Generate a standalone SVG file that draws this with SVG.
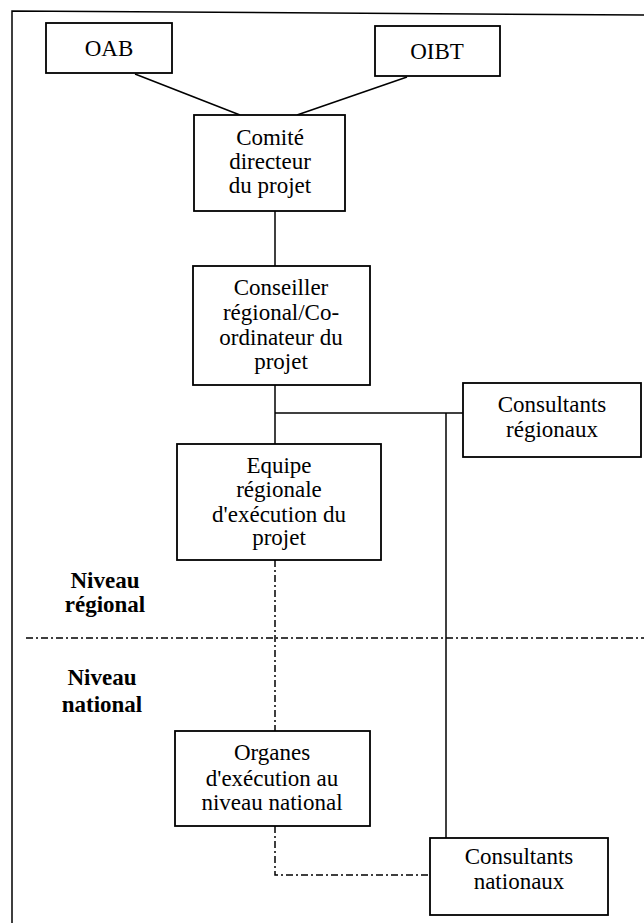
<svg xmlns="http://www.w3.org/2000/svg" width="644" height="923" viewBox="0 0 644 923">
<style>
.box{fill:#fff;stroke:#000;stroke-width:1.8}
.t{font-family:"Liberation Serif","Times New Roman",serif;font-size:23px;text-anchor:middle;fill:#000}
.b{font-weight:bold}
.ln{stroke:#000;stroke-width:1.5;fill:none}
.dd{stroke:#000;stroke-width:1.5;fill:none;stroke-dasharray:7 3 2 3}
</style>
<rect width="644" height="923" fill="#fff"/>
<path id="frame" class="ln" d="M12,923 V11 L644,15"/>
<g id="connectors">
<line class="ln" x1="135" y1="74" x2="240" y2="115"/>
<line class="ln" x1="407" y1="77" x2="297" y2="115"/>
<line class="ln" x1="275" y1="211" x2="275" y2="266"/>
<line class="ln" x1="275" y1="385" x2="275" y2="444"/>
<polyline class="ln" points="275,413 463,413"/>
<line class="ln" x1="446" y1="413" x2="446" y2="838"/>
<line class="dd" x1="275" y1="560" x2="275" y2="731"/>
<polyline class="dd" points="275,826 275,875 430,875"/>
<line class="dd" x1="26" y1="638" x2="644" y2="638"/>
</g>
<g id="oab">
<rect class="box" x="46" y="23" width="126" height="50"/>
<text class="t" x="109" y="56">OAB</text>
</g>
<g id="oibt">
<rect class="box" x="375" y="26" width="125" height="50"/>
<text class="t" x="437" y="59">OIBT</text>
</g>
<g id="comite">
<rect class="box" x="194" y="115" width="151" height="96"/>
<text class="t" x="270" y="145">Comité</text>
<text class="t" x="270" y="169">directeur</text>
<text class="t" x="270" y="193">du projet</text>
</g>
<g id="conseiller">
<rect class="box" x="193" y="266" width="177" height="119"/>
<text class="t" x="281" y="295">Conseiller</text>
<text class="t" x="281" y="320">régional/Co-</text>
<text class="t" x="281" y="345">ordinateur du</text>
<text class="t" x="281" y="369">projet</text>
</g>
<g id="consultants-regionaux">
<rect class="box" x="463" y="383" width="178" height="74"/>
<text class="t" x="552" y="412">Consultants</text>
<text class="t" x="552" y="437">régionaux</text>
</g>
<g id="equipe">
<rect class="box" x="177" y="444" width="204" height="116"/>
<text class="t" x="279" y="473">Equipe</text>
<text class="t" x="279" y="497">régionale</text>
<text class="t" x="279" y="522">d'exécution du</text>
<text class="t" x="279" y="545">projet</text>
</g>
<g id="niveau-regional">
<text class="t b" x="105" y="588">Niveau</text>
<text class="t b" x="105" y="612">régional</text>
</g>
<g id="niveau-national">
<text class="t b" x="102" y="685">Niveau</text>
<text class="t b" x="102" y="712">national</text>
</g>
<g id="organes">
<rect class="box" x="175" y="731" width="195" height="95"/>
<text class="t" x="272" y="760">Organes</text>
<text class="t" x="272" y="786">d'exécution au</text>
<text class="t" x="272" y="810">niveau national</text>
</g>
<g id="consultants-nationaux">
<rect class="box" x="430" y="838" width="178" height="77"/>
<text class="t" x="519" y="864">Consultants</text>
<text class="t" x="519" y="889">nationaux</text>
</g>
</svg>
